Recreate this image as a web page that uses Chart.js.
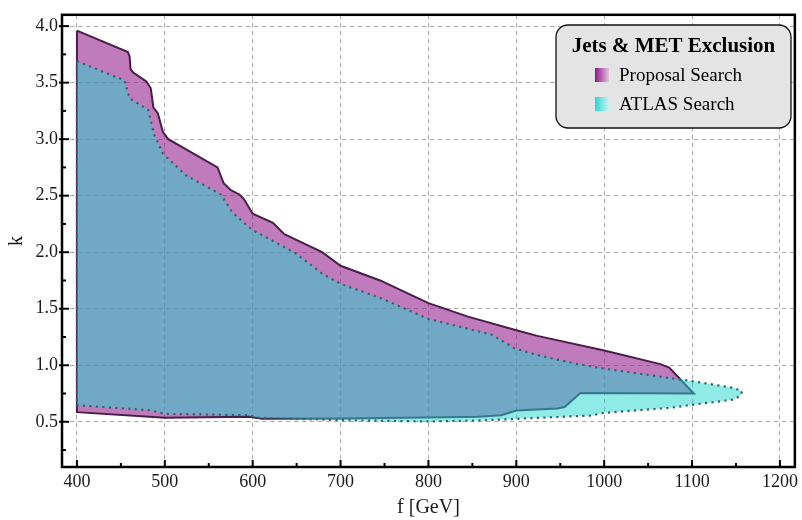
<!DOCTYPE html>
<html>
<head>
<meta charset="utf-8">
<script src="https://cdn.jsdelivr.net/npm/chart.js@4"></script>
<style>
  html, body { margin: 0; padding: 0; background: #fff; }
  #wrap { width: 802px; height: 520px; }
</style>
</head>
<body>
<div id="wrap"><canvas id="exclusion" width="802" height="520"></canvas></div>
<script>
// axis ticks
const fTicks = [400, 500, 600, 700, 800, 900, 1000, 1100, 1200];
const fMinor = [450, 550, 650, 750, 850, 950, 1050, 1150];
const kTicks = [0.5, 1.0, 1.5, 2.0, 2.5, 3.0, 3.5, 4.0];
const kMinor = [0.25, 0.75, 1.25, 1.75, 2.25, 2.75, 3.25, 3.75];

// proposal search contour: upper edge left to right, then lower edge back
const proposalF = [400, 458, 460, 461, 464, 479, 484, 487, 492, 498, 504, 560, 567, 575, 585, 590,
  600, 623, 636, 679, 700, 745, 800, 845, 900, 924, 1000, 1064, 1074, 1102,
  973, 955, 947, 900, 883, 857, 796, 700, 611, 596, 500, 400];
const proposalK = [3.96, 3.77, 3.73, 3.62, 3.59, 3.51, 3.45, 3.28, 3.23, 3.06, 3.00, 2.75, 2.61, 2.55, 2.51, 2.47,
  2.34, 2.26, 2.16, 2.00, 1.88, 1.75, 1.55, 1.43, 1.31, 1.26, 1.13, 1.01, 0.98, 0.75,
  0.755, 0.63, 0.617, 0.60, 0.558, 0.545, 0.538, 0.53, 0.527, 0.544, 0.535, 0.585];

// ATLAS contour
const atlasF = [400, 454, 460, 481, 488, 498, 524, 564, 577, 599, 649, 679, 700, 747, 800, 872, 898, 924,
  970, 1000, 1083, 1102, 1147, 1157,
  1155, 1147, 1102, 1075, 1000, 985, 900, 857, 796, 702, 607, 596, 500, 483, 400];
const atlasK = [3.69, 3.52, 3.36, 3.26, 3.04, 2.87, 2.68, 2.51, 2.35, 2.20, 1.99, 1.81, 1.72, 1.59, 1.41, 1.27, 1.15, 1.09,
  1.01, 0.97, 0.878, 0.857, 0.80, 0.77,
  0.73, 0.696, 0.652, 0.623, 0.579, 0.555, 0.526, 0.511, 0.503, 0.514, 0.535, 0.558, 0.57, 0.602, 0.646];

const seriesNames = ["Proposal Search", "ATLAS Search"];
const legendTitle = "Jets & MET Exclusion";

const serif = "'Liberation Serif', 'DejaVu Serif', serif";

// closed polygon from two coordinate lists
const polygon = (fs, ks) => {
  const pts = fs.map((f, i) => ({ x: f, y: ks[i] }));
  pts.push({ ...pts[0] });
  return pts;
};

const roundRect = (ctx, x, y, w, h, r) => {
  ctx.beginPath();
  ctx.moveTo(x + r, y);
  ctx.arcTo(x + w, y, x + w, y + h, r);
  ctx.arcTo(x + w, y + h, x, y + h, r);
  ctx.arcTo(x, y + h, x, y, r);
  ctx.arcTo(x, y, x + w, y, r);
  ctx.closePath();
};

// inward tick marks, full frame and the boxed legend
const framePlugin = {
  id: "frame",
  afterDraw(chart) {
    const { ctx, chartArea: a, scales: { x, y } } = chart;
    ctx.save();
    ctx.strokeStyle = "#000";
    ctx.lineWidth = 2;
    ctx.setLineDash([]);
    const seg = (x1, y1, x2, y2) => {
      ctx.beginPath(); ctx.moveTo(x1, y1); ctx.lineTo(x2, y2); ctx.stroke();
    };
    fTicks.forEach(v => { const p = x.getPixelForValue(v); seg(p, a.bottom + 1, p, a.bottom - 7); });
    fMinor.forEach(v => { const p = x.getPixelForValue(v); seg(p, a.bottom, p, a.bottom - 4); });
    kTicks.forEach(v => { const p = y.getPixelForValue(v); seg(a.left - 3, p, a.left + 7, p); });
    kMinor.forEach(v => { const p = y.getPixelForValue(v); seg(a.left, p, a.left + 4, p); });

    ctx.lineWidth = 2.5;
    ctx.strokeRect(a.left, a.top, a.right - a.left, a.bottom - a.top);

    // legend box
    const bx = 556, by = 25, bw = 235, bh = 103;
    roundRect(ctx, bx, by, bw, bh, 12);
    ctx.fillStyle = "#e4e4e4";
    ctx.fill();
    ctx.lineWidth = 1.3;
    ctx.strokeStyle = "#111";
    ctx.stroke();

    ctx.fillStyle = "#000";
    ctx.textBaseline = "middle";
    ctx.textAlign = "center";
    ctx.font = "bold 21px " + serif;
    ctx.fillText(legendTitle, bx + bw / 2, 47);

    const swatches = [["#8a1a82", "#e6c0e2"], ["#30d4d2", "#c8f3f2"]];
    ctx.textAlign = "left";
    ctx.font = "19px " + serif;
    chart.data.datasets.forEach((ds, i) => {
      const sy = 75 + i * 29;
      const g = ctx.createLinearGradient(595, 0, 609, 0);
      g.addColorStop(0, swatches[i][0]);
      g.addColorStop(1, swatches[i][1]);
      ctx.fillStyle = g;
      ctx.fillRect(595, sy - 7, 14, 14);
      ctx.fillStyle = "#000";
      ctx.fillText(ds.label, 619, sy + 1);
    });
    ctx.restore();
  }
};

new Chart(document.getElementById("exclusion"), {
  type: "scatter",
  data: {
    datasets: [
      {
        label: seriesNames[0],
        data: polygon(proposalF, proposalK),
        showLine: true,
        fill: "shape",
        backgroundColor: "rgba(150, 35, 144, 0.6)",
        borderColor: "#4a1d4a",
        borderWidth: 2,
        pointRadius: 0,
        tension: 0,
        order: 1
      },
      {
        label: seriesNames[1],
        data: polygon(atlasF, atlasK),
        showLine: true,
        fill: "shape",
        backgroundColor: "rgba(33, 213, 205, 0.5)",
        borderColor: "#2a6a6e",
        borderWidth: 2.2,
        borderDash: [2.2, 4.3],
        pointRadius: 0,
        tension: 0,
        order: 0
      }
    ]
  },
  options: {
    responsive: false,
    animation: false,
    layout: { padding: { top: 13, right: 4, left: 0, bottom: 0 } },
    plugins: {
      legend: { display: false },
      tooltip: { enabled: false }
    },
    scales: {
      x: {
        type: "linear",
        min: 383,
        max: 1217,
        afterBuildTicks: s => { s.ticks = fTicks.map(v => ({ value: v })); },
        afterFit: s => { s.height = 53; },
        grid: { color: "#acacac", lineWidth: 1, drawTicks: false },
        border: { display: false, dash: [4.5, 3.5] },
        ticks: {
          padding: 4,
          color: "#1a1a1a",
          font: { family: serif, size: 18 },
          callback: v => String(v)
        },
        title: {
          display: true,
          text: "f [GeV]",
          color: "#1a1a1a",
          font: { family: serif, size: 20 },
          padding: { bottom: 0, top: 0 }
        }
      },
      y: {
        type: "linear",
        min: 0.1,
        max: 4.1,
        afterBuildTicks: s => { s.ticks = kTicks.map(v => ({ value: v })); },
        afterFit: s => { s.width = 62; },
        grid: { color: "#acacac", lineWidth: 1, drawTicks: false },
        border: { display: false, dash: [4.5, 3.5] },
        ticks: {
          padding: 4,
          color: "#1a1a1a",
          font: { family: serif, size: 18 },
          callback: v => Number(v).toFixed(1)
        },
        title: {
          display: true,
          text: "k",
          color: "#1a1a1a",
          font: { family: serif, size: 20 },
          padding: { top: 5, bottom: 0 }
        }
      }
    }
  },
  plugins: [framePlugin]
});
</script>
</body>
</html>
